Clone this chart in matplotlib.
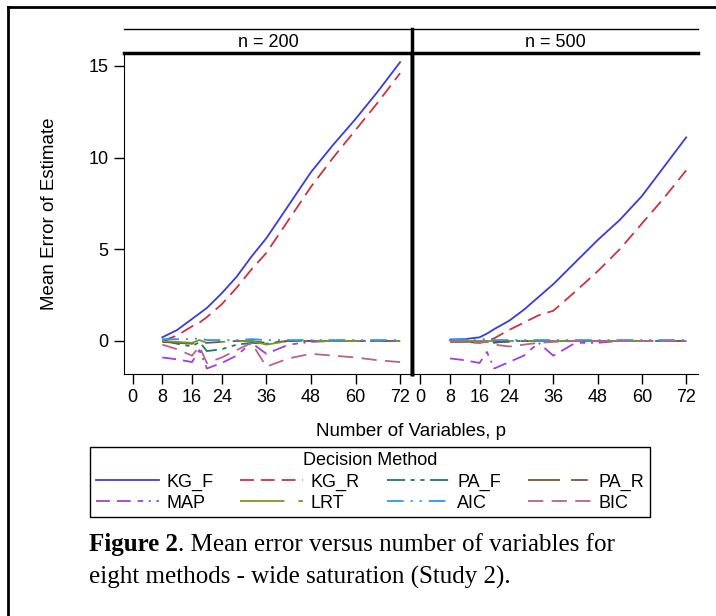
import numpy as np
import matplotlib
matplotlib.use("Agg")
from matplotlib import pyplot as plt
from matplotlib.lines import Line2D

plt.rcParams["font.family"] = ["Liberation Sans", "DejaVu Sans"]
plt.rcParams["lines.scale_dashes"] = False

# number of variables
p_vals = [8, 12, 16, 18, 20, 24, 28, 32, 36, 42, 48, 54, 60, 66, 72]

methods = ["KG_F", "KG_R", "PA_F", "PA_R", "MAP", "LRT", "AIC", "BIC"]

# mean error of estimate, n = 200
n200 = {
    "KG_F": [0.2, 0.6, 1.2, 1.5, 1.8, 2.6, 3.5, 4.6, 5.6, 7.4, 9.2, 10.7, 12.1, 13.6, 15.2],
    "KG_R": [0.0, 0.3, 0.8, 1.0, 1.3, 2.0, 2.9, 3.9, 4.8, 6.6, 8.4, 10.0, 11.5, 13.0, 14.6],
    "PA_F": [0.05, -0.15, -0.3, -0.05, -0.55, -0.45, -0.2, -0.1, -0.15, 0.0, 0.0, 0.0, 0.0, 0.0, 0.0],
    "PA_R": [-0.05, -0.1, -0.15, -0.05, -0.1, -0.05, 0.0, 0.0, -0.1, 0.0, 0.0, 0.0, 0.0, 0.0, 0.0],
    "MAP": [-0.9, -1.0, -1.15, -0.5, -1.5, -1.2, -0.8, -0.1, -0.7, -0.2, -0.05, 0.0, 0.0, 0.0, 0.0],
    "LRT": [0.0, -0.05, -0.1, 0.05, -0.1, -0.05, 0.0, 0.0, -0.2, 0.0, 0.0, 0.0, 0.0, 0.0, 0.0],
    "AIC": [0.1, 0.1, 0.1, 0.15, 0.05, 0.05, 0.05, 0.1, 0.05, 0.05, 0.05, 0.05, 0.05, 0.05, 0.05],
    "BIC": [-0.2, -0.45, -0.8, -0.3, -1.2, -0.9, -0.5, -0.1, -1.4, -0.95, -0.7, -0.8, -0.9, -1.05, -1.15],
}

# mean error of estimate, n = 500
n500 = {
    "KG_F": [0.05, 0.1, 0.2, 0.4, 0.65, 1.1, 1.7, 2.4, 3.1, 4.3, 5.5, 6.6, 7.9, 9.5, 11.1],
    "KG_R": [0.0, -0.05, -0.1, 0.0, 0.15, 0.6, 1.0, 1.4, 1.65, 2.7, 3.8, 5.0, 6.4, 7.8, 9.3],
    "PA_F": [0.0, 0.0, -0.05, 0.0, -0.1, 0.0, 0.0, 0.0, 0.0, 0.0, 0.0, 0.0, 0.0, 0.0, 0.0],
    "PA_R": [-0.05, -0.05, -0.05, 0.0, -0.05, -0.05, 0.0, 0.0, 0.0, 0.0, 0.0, 0.0, 0.0, 0.0, 0.0],
    "MAP": [-0.95, -1.05, -1.2, -0.6, -1.5, -1.15, -0.8, -0.1, -0.8, -0.1, -0.1, 0.0, 0.0, 0.0, 0.0],
    "LRT": [0.0, 0.0, 0.0, 0.0, 0.0, 0.0, 0.0, 0.0, 0.0, 0.0, 0.0, 0.0, 0.0, 0.0, 0.0],
    "AIC": [0.1, 0.1, 0.1, 0.1, 0.05, 0.05, 0.05, 0.05, 0.05, 0.05, 0.05, 0.05, 0.05, 0.05, 0.05],
    "BIC": [0.0, -0.05, -0.1, -0.05, -0.2, -0.3, -0.2, -0.1, -0.05, 0.0, 0.0, 0.0, 0.0, 0.0, 0.0],
}

panels = ["n = 200", "n = 500"]
x_ticks = [0, 8, 16, 24, 36, 48, 60, 72]
y_ticks = [0, 5, 10, 15]

# SAS-like line styles
styles = {
    "KG_F": dict(color="#3b3bdc", dashes=()),
    "KG_R": dict(color="#cc3340", dashes=(10, 5)),
    "PA_F": dict(color="#1a7a68", dashes=(13, 4, 3, 4, 3, 4)),
    "PA_R": dict(color="#7a5530", dashes=(23, 8, 12, 8)),
    "MAP": dict(color="#a040e0", dashes=(10, 5, 10, 5, 4, 4, 1.5, 4)),
    "LRT": dict(color="#7f9424", dashes=(32, 10, 4, 10)),
    "AIC": dict(color="#2597fa", dashes=(12, 5, 1.5, 5, 1.5, 5)),
    "BIC": dict(color="#b8648a", dashes=(11, 6)),
}

W, H = 716, 616
fig = plt.figure(figsize=(W / 100, H / 100), dpi=100)


def fx(px):
    return px / W


def fy(py):
    return 1 - py / H


left, mid, right = 124, 412, 698
top, bot, strip_top = 53, 374, 29

axes = []
for i, (data, label) in enumerate(zip([n200, n500], panels)):
    x0 = left if i == 0 else mid
    x1 = mid if i == 0 else right
    ax = fig.add_axes([fx(x0), fy(bot), fx(x1 - x0), fy(top) - fy(bot)])
    for m in methods:
        st = styles[m]
        ln, = ax.plot(p_vals, data[m], color=st["color"], lw=1.3, label=m)
        if st["dashes"]:
            ln.set_dashes(st["dashes"])
    ax.set_xlim(-2.3, 75.2)
    ax.set_ylim(-1.8, 15.7)
    ax.set_xticks(x_ticks)
    ax.tick_params(axis="both", direction="out", length=7, width=1, labelsize=13, pad=4)
    ax.spines["top"].set_visible(False)
    ax.spines["right"].set_visible(False)
    if i == 0:
        ax.set_yticks(y_ticks)
        ax.spines["right"].set_visible(True)
        ax.spines["right"].set_linewidth(2.5)
    else:
        ax.set_yticks([])
        ax.spines["left"].set_linewidth(2.5)
    # strip header
    sx = fig.add_axes([fx(x0), fy(top), fx(x1 - x0), fy(strip_top) - fy(top)])
    sx.set_xticks([])
    sx.set_yticks([])
    for s in ["left", "right"]:
        sx.spines[s].set_visible(False)
    sx.spines["bottom"].set_linewidth(2.5)
    sx.spines["top"].set_linewidth(1)
    sx.text(0.5, 0.45, label, ha="center", va="center", fontsize=13, transform=sx.transAxes)
    axes.append(ax)

# divider through the strip
fig.add_artist(Line2D([fx(mid), fx(mid)], [fy(bot), fy(strip_top)], color="black", lw=2.5))

fig.text(fx((left + right) / 2), fy(431), "Number of Variables, p", ha="center", va="center", fontsize=13.5)
fig.text(fx(50), fy((top + bot) / 2), "Mean Error of Estimate", ha="center", va="center",
         rotation=90, fontsize=13.5)

# legend (row-wise order)
h, l = axes[0].get_legend_handles_labels()
order = [0, 4, 1, 5, 2, 6, 3, 7]
leg = fig.legend([h[k] for k in order], [l[k] for k in order], ncol=4,
                 loc="upper center", bbox_to_anchor=(fx(370), fy(447)), borderaxespad=0,
                 title="Decision Method", title_fontsize=13, fontsize=13,
                 handlelength=3.5, handletextpad=0.4, columnspacing=1.5,
                 labelspacing=0.22, borderpad=0.3, frameon=True, fancybox=False,
                 edgecolor="black", framealpha=1)
leg.get_frame().set_linewidth(1)

# outer frame (left and top visible)
fig.add_artist(Line2D([fx(8), fx(8)], [0, fy(7)], color="black", lw=2))
fig.add_artist(Line2D([fx(8), 1], [fy(7), fy(7)], color="black", lw=2))

# caption
fig.canvas.draw()
r = fig.canvas.get_renderer()
cap_font = ["Liberation Serif", "DejaVu Serif"]
t1 = fig.text(fx(89), fy(545), "Figure 2", fontsize=18, fontweight="bold", family=cap_font, va="center")
bb = t1.get_window_extent(r)
fig.text(bb.x1 / W, fy(545), ". Mean error versus number of variables for", fontsize=18,
         family=cap_font, va="center")
fig.text(fx(89), fy(577), "eight methods - wide saturation (Study 2).", fontsize=18,
         family=cap_font, va="center")

fig.savefig("out.png", dpi=100)
